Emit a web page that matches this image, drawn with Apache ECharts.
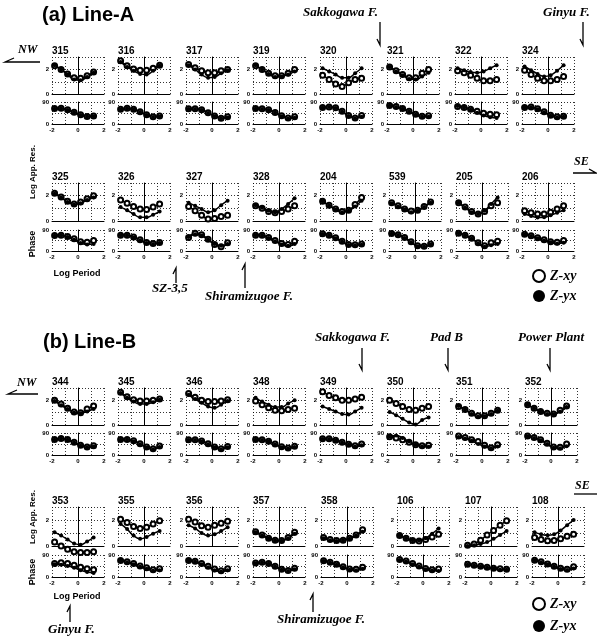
<!DOCTYPE html>
<html>
<head>
<meta charset="utf-8">
<script src="https://cdn.jsdelivr.net/npm/echarts@6/dist/echarts.min.js"></script>
<style>
html,body{margin:0;padding:0;background:#fff;}
#main{width:597px;height:639px;}
</style>
</head>
<body>
<div id="main"></div>
<script>
// log period where the curves are read
var logPeriod = [-1.8, -1.3, -0.8, -0.3, 0.2, 0.7, 1.2];

var stations = [
  '315','316','317','319','320','321','322','324',
  '325','326','327','328','204','539','205','206',
  '344','345','346','348','349','350','351','352',
  '353','355','356','357','358','106','107','108'
];

// log apparent resistivity, Z-xy (open circles)
var resXY = [
  [2.3, 2.0, 1.65, 1.35, 1.3, 1.5, 1.8],
  [2.7, 2.3, 2.05, 1.95, 1.95, 2.1, 2.35],
  [2.4, 2.15, 1.9, 1.75, 1.75, 1.9, 2.0],
  [2.3, 2.0, 1.7, 1.5, 1.5, 1.7, 2.0],
  [1.55, 1.2, 0.85, 0.65, 0.95, 1.2, 1.3],
  [2.2, 1.9, 1.6, 1.35, 1.35, 1.7, 2.0],
  [1.9, 1.75, 1.55, 1.3, 1.1, 1.1, 1.2],
  [1.95, 1.6, 1.3, 1.1, 1.1, 1.2, 1.45],
  [2.2, 1.9, 1.55, 1.35, 1.5, 1.75, 2.0],
  [1.65, 1.4, 1.15, 0.95, 0.9, 1.1, 1.35],
  [1.15, 0.8, 0.45, 0.15, 0.2, 0.35, 0.45],
  [1.2, 1.0, 0.75, 0.65, 0.75, 0.95, 1.2],
  [1.55, 1.25, 0.95, 0.75, 0.85, 1.3, 1.85],
  [1.45, 1.2, 0.95, 0.78, 0.85, 1.15, 1.5],
  [1.45, 1.1, 0.75, 0.55, 0.75, 1.2, 1.45],
  [0.8, 0.65, 0.55, 0.55, 0.7, 0.95, 1.2],
  [2.0, 1.7, 1.35, 1.05, 1.0, 1.3, 1.55],
  [2.65, 2.3, 2.05, 1.95, 1.95, 2.0, 2.1],
  [2.55, 2.25, 2.0, 1.9, 1.9, 1.95, 2.05],
  [1.95, 1.65, 1.4, 1.2, 1.15, 1.25, 1.35],
  [2.7, 2.4, 2.2, 2.0, 2.0, 2.1, 2.25],
  [2.0, 1.75, 1.5, 1.25, 1.2, 1.35, 1.5],
  [1.5, 1.25, 0.95, 0.75, 0.75, 0.95, 1.2],
  [1.65, 1.35, 1.1, 0.95, 0.9, 1.2, 1.55],
  [0.3, 0.0, -0.25, -0.45, -0.5, -0.5, -0.45],
  [2.05, 1.8, 1.5, 1.35, 1.45, 1.7, 1.95],
  [2.05, 1.85, 1.55, 1.45, 1.6, 1.75, 1.9],
  [1.1, 0.85, 0.6, 0.45, 0.42, 0.65, 1.05],
  [0.65, 0.5, 0.42, 0.45, 0.6, 0.85, 1.25],
  [0.8, 0.6, 0.42, 0.38, 0.5, 0.7, 0.9],
  [0.05, 0.15, 0.45, 0.85, 1.2, 1.6, 1.95],
  [0.65, 0.5, 0.4, 0.42, 0.55, 0.75, 0.9]
];

// log apparent resistivity, Z-yx (filled circles)
var resYX = [
  [2.35, 2.0, 1.6, 1.2, 1.15, 1.4, 1.75],
  [2.6, 2.2, 1.9, 1.65, 1.6, 1.9, 2.3],
  [2.35, 2.0, 1.6, 1.35, 1.4, 1.7, 1.95],
  [2.35, 2.0, 1.65, 1.4, 1.45, 1.6, 1.85],
  [2.1, 1.85, 1.6, 1.35, 1.35, 1.7, 2.1],
  [2.2, 1.85, 1.55, 1.25, 1.2, 1.45, 1.75],
  [2.1, 1.95, 1.8, 1.75, 1.85, 2.1, 2.35],
  [2.25, 1.95, 1.65, 1.45, 1.55, 1.9, 2.35],
  [2.15, 1.85, 1.5, 1.3, 1.4, 1.65, 1.85],
  [1.1, 0.85, 0.55, 0.3, 0.3, 0.5, 0.75],
  [1.45, 1.2, 0.95, 0.7, 0.85, 1.25, 1.6],
  [1.25, 1.05, 0.8, 0.7, 0.95, 1.35, 1.8],
  [1.55, 1.2, 0.9, 0.7, 0.8, 1.15, 1.6],
  [1.4, 1.15, 0.9, 0.7, 0.8, 1.1, 1.45],
  [1.45, 1.05, 0.7, 0.55, 0.8, 1.35, 1.85],
  [0.55, 0.4, 0.28, 0.3, 0.45, 0.65, 0.85],
  [1.95, 1.6, 1.3, 1.0, 0.95, 1.1, 1.3],
  [2.6, 2.2, 1.9, 1.7, 1.7, 1.85, 2.05],
  [2.45, 2.1, 1.8, 1.5, 1.4, 1.65, 1.95],
  [2.2, 1.9, 1.65, 1.45, 1.45, 1.75, 2.0],
  [1.5, 1.3, 1.1, 0.9, 0.85, 1.1, 1.4],
  [1.05, 0.8, 0.5, 0.2, 0.05, 0.4, 0.6],
  [1.55, 1.25, 0.9, 0.68, 0.7, 0.9, 1.15],
  [1.65, 1.35, 1.1, 0.9, 0.88, 1.1, 1.45],
  [1.05, 0.8, 0.5, 0.2, 0.1, 0.35, 0.65],
  [1.7, 1.3, 0.8, 0.55, 0.7, 0.95, 1.15],
  [1.6, 1.35, 1.0, 0.8, 0.9, 1.15, 1.45],
  [1.05, 0.8, 0.58, 0.42, 0.4, 0.6, 0.95],
  [0.6, 0.45, 0.38, 0.42, 0.55, 0.8, 1.1],
  [0.8, 0.6, 0.45, 0.42, 0.6, 0.95, 1.35],
  [0.0, 0.05, 0.15, 0.3, 0.55, 0.85, 1.15],
  [1.05, 0.9, 0.82, 0.9, 1.2, 1.6, 2.0]
];

// phase (deg), Z-xy
var phXY = [
  [63, 64, 58, 48, 38, 31, 33],
  [60, 64, 60, 50, 38, 30, 33],
  [62, 62, 58, 46, 33, 24, 30],
  [63, 62, 58, 47, 34, 25, 30],
  [67, 70, 66, 52, 35, 25, 35],
  [76, 72, 63, 52, 40, 32, 34],
  [72, 68, 60, 52, 44, 40, 38],
  [68, 70, 62, 50, 36, 30, 32],
  [66, 68, 62, 52, 40, 38, 45],
  [68, 68, 60, 48, 36, 32, 36],
  [58, 76, 70, 50, 28, 18, 35],
  [68, 67, 58, 45, 32, 28, 42],
  [74, 68, 57, 42, 28, 27, 30],
  [75, 70, 58, 40, 22, 20, 30],
  [76, 68, 55, 35, 22, 35, 42],
  [72, 65, 57, 48, 40, 38, 45],
  [63, 68, 63, 52, 40, 33, 38],
  [63, 63, 58, 46, 33, 26, 37],
  [62, 62, 57, 46, 33, 26, 35],
  [63, 62, 56, 45, 34, 29, 36],
  [66, 66, 60, 52, 44, 38, 45],
  [75, 70, 62, 52, 42, 38, 40],
  [78, 72, 62, 55, 40, 30, 42],
  [78, 72, 62, 48, 33, 32, 45],
  [55, 58, 55, 48, 40, 34, 30],
  [68, 62, 55, 45, 38, 30, 34],
  [68, 64, 55, 44, 33, 26, 34],
  [57, 60, 55, 44, 32, 27, 36],
  [66, 60, 52, 42, 33, 32, 40],
  [72, 65, 55, 45, 35, 30, 33],
  [52, 48, 44, 40, 36, 34, 32],
  [69, 62, 53, 44, 36, 32, 42]
];

// phase (deg), Z-yx
var phYX = [
  [62, 63, 57, 47, 37, 30, 32],
  [59, 63, 59, 49, 37, 29, 31],
  [61, 61, 57, 45, 32, 23, 27],
  [62, 61, 57, 46, 32, 22, 26],
  [66, 70, 65, 50, 33, 24, 30],
  [75, 70, 62, 50, 38, 30, 30],
  [74, 68, 58, 46, 35, 28, 25],
  [67, 69, 60, 48, 34, 28, 30],
  [65, 67, 60, 48, 34, 28, 30],
  [67, 67, 58, 46, 34, 30, 34],
  [60, 72, 66, 48, 30, 22, 30],
  [67, 66, 56, 42, 28, 22, 30],
  [73, 66, 55, 40, 26, 25, 27],
  [74, 69, 56, 38, 20, 18, 28],
  [76, 67, 53, 33, 18, 25, 30],
  [71, 64, 55, 45, 37, 32, 35],
  [62, 67, 62, 50, 38, 32, 35],
  [62, 62, 56, 44, 31, 24, 33],
  [61, 61, 55, 44, 31, 24, 32],
  [62, 61, 55, 43, 32, 27, 33],
  [65, 65, 59, 50, 42, 35, 40],
  [76, 80, 70, 55, 42, 35, 34],
  [74, 68, 58, 45, 35, 28, 35],
  [77, 70, 60, 45, 30, 28, 36],
  [52, 50, 45, 38, 28, 20, 16],
  [67, 60, 52, 42, 34, 26, 28],
  [67, 62, 52, 40, 28, 22, 28],
  [56, 59, 54, 42, 30, 25, 32],
  [65, 58, 50, 40, 30, 28, 34],
  [70, 63, 52, 42, 32, 27, 25],
  [50, 46, 42, 38, 35, 30, 30],
  [68, 60, 51, 42, 33, 29, 35]
];

// panel layout (px)
var rows = [
  {res: 57, resH: 37.5, ph: 102, phH: 22},
  {res: 183, resH: 38, ph: 230, phH: 21},
  {res: 388, resH: 37, ph: 433, phH: 22},
  {res: 507, resH: 39, ph: 555, phH: 22}
];
var colLeft = [
  [52, 118, 186, 253, 320, 387, 455, 522],
  [52, 118, 186, 253, 320, 389, 456, 522],
  [52, 118, 186, 253, 320, 387, 456, 525],
  [52, 118, 186, 253, 321, 397, 465, 532]
];
var panelW = 52;

var SANS = '"Liberation Sans", Arial, sans-serif';
var SERIF = '"Liberation Serif", "Times New Roman", serif';
var dotted = {show: true, lineStyle: {color: '#000', width: 0.8, type: [1, 2]}};
var tickFont = {fontSize: 6, fontWeight: 'bold', color: '#000', fontFamily: SANS};

var grids = [], xAxes = [], yAxes = [], series = [], graphics = [];

stations.forEach(function (st, i) {
  var r = rows[Math.floor(i / 8)];
  var left = colLeft[Math.floor(i / 8)][i % 8];
  var g = grids.length;

  grids.push({left: left, top: r.res, width: panelW, height: r.resH});
  grids.push({left: left, top: r.ph, width: panelW, height: r.phH});

  [0, 1].forEach(function (k) {
    xAxes.push({
      type: 'value', gridIndex: g + k, min: -2, max: 2, interval: 1,
      axisLine: {lineStyle: {color: '#000', width: 1}},
      axisTick: {show: false},
      splitLine: dotted,
      axisLabel: k === 1 ? Object.assign({
        margin: 3,
        formatter: function (v) { return v % 2 === 0 ? String(v) : ''; }
      }, tickFont) : {show: false}
    });
  });
  yAxes.push({
    type: 'value', gridIndex: g, min: 0, max: 3, interval: 1,
    axisLine: {show: true, lineStyle: {color: '#000', width: 1}},
    axisTick: {show: true, inside: true, length: 2, lineStyle: {color: '#000'}},
    splitLine: dotted,
    axisLabel: Object.assign({margin: 3, formatter: function (v) { return (v === 0 || v === 2) ? String(v) : ''; }}, tickFont)
  });
  yAxes.push({
    type: 'value', gridIndex: g + 1, min: 0, max: 90, interval: 45,
    axisLine: {show: true, lineStyle: {color: '#000', width: 1}},
    axisTick: {show: true, inside: true, length: 2, lineStyle: {color: '#000'}},
    splitLine: dotted,
    axisLabel: Object.assign({margin: 3, formatter: function (v) { return (v === 0 || v === 90) ? String(v) : ''; }}, tickFont)
  });

  function pts(arr) { return logPeriod.map(function (p, k) { return [p, arr[k]]; }); }
  function xy(idx, data) {
    return {
      type: 'line', name: 'Z-xy', xAxisIndex: idx, yAxisIndex: idx, data: data,
      smooth: true, clip: false, symbol: 'emptyCircle', symbolSize: 5,
      lineStyle: {color: '#000', width: 1.5},
      itemStyle: {color: '#000', borderColor: '#000', borderWidth: 1.2}
    };
  }
  function yx(idx, data) {
    return {
      type: 'line', name: 'Z-yx', xAxisIndex: idx, yAxisIndex: idx, data: data,
      smooth: true, clip: false, symbol: 'circle', symbolSize: 4,
      lineStyle: {color: '#000', width: 1.5},
      itemStyle: {color: '#000'}
    };
  }
  series.push(xy(g, pts(resXY[i])), yx(g, pts(resYX[i])));
  series.push(xy(g + 1, pts(phXY[i])), yx(g + 1, pts(phYX[i])));

  graphics.push({
    type: 'text', x: left, y: r.res - 6,
    style: {text: st, font: 'bold 10px ' + SANS, fill: '#000', verticalAlign: 'middle'}
  });
});

function txt(s, x, y, font, extra) {
  return Object.assign({type: 'text', x: x, y: y,
    style: {text: s, font: font, fill: '#000', verticalAlign: 'middle'}}, extra || {});
}
function line(points, w) {
  return {type: 'polyline', shape: {points: points},
    style: {stroke: '#000', lineWidth: w || 1.3, fill: null}};
}
function down(x, y1, y2) { return line([[x, y1], [x, y2], [x - 3, y2 - 6]]); }
function up(x, y1, y2) { return line([[x - 3, y1 + 6], [x, y1], [x, y2]]); }

var italic = 'italic bold 13px ' + SERIF;
var small = 'bold 8px ' + SANS;

graphics.push(
  txt('(a) Line-A', 42, 15, 'bold 20px ' + SANS),
  txt('(b) Line-B', 43, 342, 'bold 20px ' + SANS),
  txt('NW', 18, 50, 'italic bold 12px ' + SERIF),
  line([[14, 58], [5, 62], [40, 62]]),
  txt('NW', 17, 383, 'italic bold 12px ' + SERIF),
  line([[17, 390], [8, 394], [38, 394]]),
  txt('SE', 574, 162, 'italic bold 12px ' + SERIF),
  line([[573, 173], [596, 173], [589, 169]]),
  txt('SE', 575, 486, 'italic bold 12px ' + SERIF),
  line([[574, 494], [597, 494]]),
  txt('Sakkogawa F.', 303, 13, italic), down(380, 22, 45),
  txt('Ginyu F.', 543, 13, italic), down(583, 22, 45),
  txt('SZ-3,5', 152, 289, italic), up(176, 268, 283),
  txt('Shiramizugoe F.', 205, 297, italic), up(245, 264, 288),
  txt('Sakkogawa F.', 315, 338, italic), down(362, 348, 370),
  txt('Pad B', 430, 338, italic), down(448, 348, 370),
  txt('Power Plant', 518, 338, italic), down(550, 348, 370),
  txt('Ginyu F.', 48, 630, italic), up(70, 606, 622),
  txt('Shiramizugoe F.', 277, 620, italic), up(313, 594, 612),
  {type: 'text', x: 33, y: 172, rotation: Math.PI / 2,
    style: {text: 'Log App. Res.', font: small, fill: '#000', align: 'center', verticalAlign: 'middle'}},
  {type: 'text', x: 33, y: 244, rotation: Math.PI / 2,
    style: {text: 'Phase', font: 'bold 9px ' + SANS, fill: '#000', align: 'center', verticalAlign: 'middle'}},
  {type: 'text', x: 77, y: 274,
    style: {text: 'Log Period', font: 'bold 9px ' + SANS, fill: '#000', align: 'center', verticalAlign: 'middle'}},
  {type: 'text', x: 33, y: 517, rotation: Math.PI / 2,
    style: {text: 'Log App. Res.', font: small, fill: '#000', align: 'center', verticalAlign: 'middle'}},
  {type: 'text', x: 33, y: 572, rotation: Math.PI / 2,
    style: {text: 'Phase', font: 'bold 9px ' + SANS, fill: '#000', align: 'center', verticalAlign: 'middle'}},
  {type: 'text', x: 77, y: 597,
    style: {text: 'Log Period', font: 'bold 9px ' + SANS, fill: '#000', align: 'center', verticalAlign: 'middle'}}
);

function legendAt(top, gap) {
  return {
    left: 532, top: top, orient: 'vertical', itemWidth: 12, itemHeight: 12, itemGap: gap,
    padding: 0, selectedMode: false,
    textStyle: {fontFamily: SERIF, fontStyle: 'italic', fontWeight: 'bold', fontSize: 14, color: '#000'},
    data: [
      {name: 'Z-xy', icon: 'circle', itemStyle: {color: '#fff', borderColor: '#000', borderWidth: 2}},
      {name: 'Z-yx', icon: 'circle', itemStyle: {color: '#000'}}
    ]
  };
}

var myChart = echarts.init(document.getElementById('main'));
myChart.setOption({
  backgroundColor: '#fff',
  animation: false,
  grid: grids,
  xAxis: xAxes,
  yAxis: yAxes,
  legend: [legendAt(269, 6), legendAt(597, 8)],
  series: series,
  graphic: graphics
});
</script>
</body>
</html>
